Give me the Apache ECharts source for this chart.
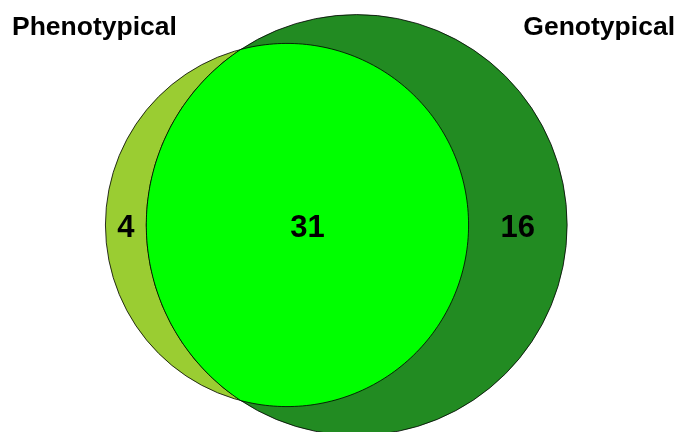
<!DOCTYPE html>
<html>
<head>
<meta charset="utf-8">
<script src="https://cdn.jsdelivr.net/npm/echarts@6/dist/echarts.min.js"></script>
<style>
html, body { margin: 0; padding: 0; background: #fff; }
#main { width: 676px; height: 432px; }
</style>
</head>
<body>
<div id="main"></div>
<script>
// set names and colours
const setNames = ['Phenotypical', 'Genotypical']
const setColors = ['#9ACD32', '#228B22']
const overlapColor = '#00FF00'
// region counts: only left, both, only right
const regionCounts = [4, 31, 16]

const totals = [regionCounts[0] + regionCounts[1], regionCounts[2] + regionCounts[1]]
const radii = totals.map(t => Math.sqrt(t / Math.PI))
const r1 = radii[0]
const r2 = radii[1]

// area of the lens between two circles with centre distance d
function lensArea (a, b, d) {
  if (d >= a + b) return 0
  if (d <= Math.abs(a - b)) return Math.PI * Math.min(a, b) ** 2
  const p = Math.acos((d * d + a * a - b * b) / (2 * d * a))
  const q = Math.acos((d * d + b * b - a * a) / (2 * d * b))
  const k = Math.sqrt((-d + a + b) * (d + a - b) * (d - a + b) * (d + a + b))
  return a * a * p + b * b * q - 0.5 * k
}

// area-proportional layout: find distance by bisection
let lo = Math.abs(r1 - r2)
let hi = r1 + r2
for (let i = 0; i < 80; i++) {
  const mid = (lo + hi) / 2
  if (lensArea(r1, r2, mid) > regionCounts[1]) lo = mid
  else hi = mid
}
const dist = (lo + hi) / 2

/**
 * layout: pixel per unit and left centre position
 */
const W = 676
const H = 432
const S = 54.4
const cx0 = 287
const cy0 = 225

// circles: [x, y, r]
const circles = [[0, 0, r1], [dist, 0, r2]]

// region label positions
const labelData = [
  [(-r1 + dist - r2) / 2, 0, regionCounts[0]],
  [(dist - r2 + r1) / 2, 0, regionCounts[1]],
  [(r1 + dist + r2) / 2, 0, regionCounts[2]]
]

const mChart = echarts.init(document.getElementById('main'))

const renderVenn = (params, api) => {
  const children = []
  circles.forEach((c, i) => {
    const p = api.coord([c[0], c[1]])
    const rr = api.size([c[2], 0])[0]
    children.push({
      type: 'circle',
      shape: { cx: p[0], cy: p[1], r: rr },
      style: { fill: setColors[i], stroke: '#000', lineWidth: 0.8 }
    })
  })
  // intersection lens
  const x0 = (dist * dist + r1 * r1 - r2 * r2) / (2 * dist)
  const y0 = Math.sqrt(r1 * r1 - x0 * x0)
  const a1 = Math.atan2(y0, x0 - dist)
  const b1 = Math.atan2(y0, x0)
  const pts = []
  const n = 160
  for (let i = 0; i <= n; i++) {
    const t = a1 + (2 * Math.PI - 2 * a1) * i / n
    pts.push(api.coord([dist + r2 * Math.cos(t), r2 * Math.sin(t)]))
  }
  for (let i = 0; i <= n; i++) {
    const t = -b1 + 2 * b1 * i / n
    pts.push(api.coord([r1 * Math.cos(t), r1 * Math.sin(t)]))
  }
  children.push({
    type: 'polygon',
    shape: { points: pts },
    style: { fill: overlapColor, stroke: '#000', lineWidth: 0.8 }
  })
  return { type: 'group', children }
}

const titleStyle = {
  fontSize: 26.5,
  fontWeight: 'bold',
  fontFamily: 'Liberation Sans',
  color: '#000'
}

const options = {
  animation: false,
  backgroundColor: '#fff',
  title: [
    { text: setNames[0], left: 12, top: 14, padding: 0, textStyle: titleStyle },
    { text: setNames[1], right: 1, top: 14, padding: 0, textStyle: titleStyle }
  ],
  grid: { left: 0, right: 0, top: 0, bottom: 0 },
  xAxis: {
    type: 'value',
    min: -cx0 / S,
    max: (W - cx0) / S,
    show: false
  },
  yAxis: {
    type: 'value',
    min: -(H - cy0) / S,
    max: cy0 / S,
    show: false
  },
  series: [
    {
      type: 'custom',
      renderItem: renderVenn,
      data: [[0, 0]],
      clip: false,
      silent: true
    },
    {
      type: 'scatter',
      symbolSize: 0,
      data: labelData,
      silent: true,
      itemStyle: { opacity: 1 },
      label: {
        show: true,
        position: 'inside',
        offset: [0, 3],
        formatter: p => p.value[2],
        fontSize: 31,
        fontWeight: 'bold',
        fontFamily: 'Liberation Sans',
        color: '#000',
        opacity: 1
      }
    }
  ]
}
mChart.setOption(options)
</script>
</body>
</html>
